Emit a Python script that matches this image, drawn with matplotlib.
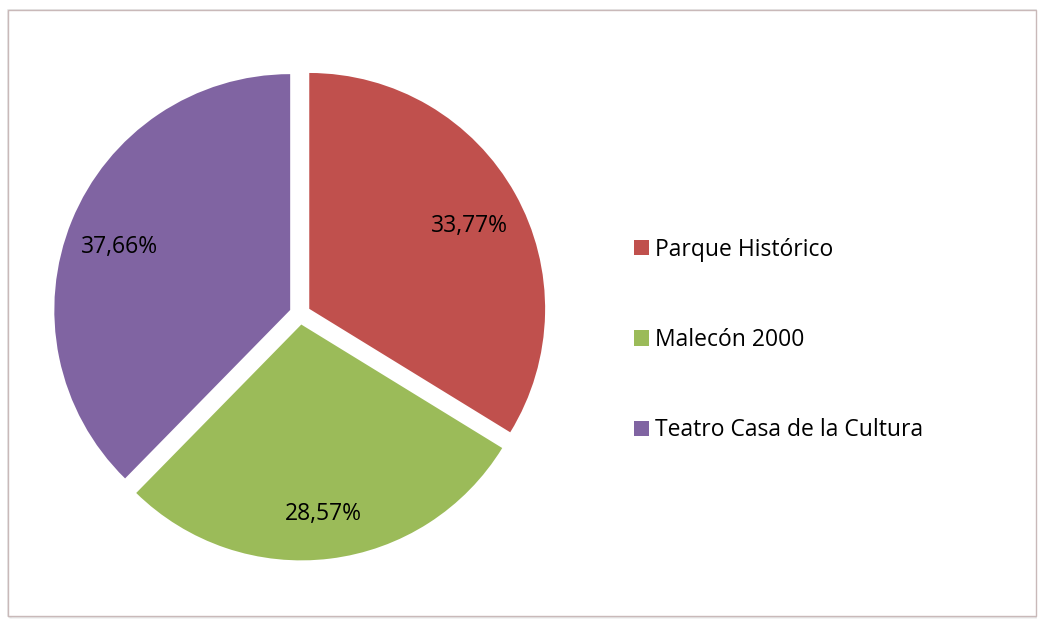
import matplotlib.pyplot as plt
import matplotlib.patches as mpatches
from matplotlib.transforms import offset_copy

plt.rcParams['font.family'] = ['Open Sans', 'DejaVu Sans']

LABELS = ['Parque Histórico', 'Malecón 2000', 'Teatro Casa de la Cultura']
VALUES = [33.77, 28.57, 37.66]
COLORS = ['#C0504D', '#9BBB59', '#8064A2']

W, H = 1038, 619
fig = plt.figure(figsize=(W / 100, H / 100), dpi=100)

# chart frame with a soft shadow on the left / bottom
for k, a in enumerate([0.10, 0.07, 0.04, 0.02]):
    fig.patches.append(mpatches.Rectangle(
        ((8 + k) / W, (3 - k) / H), (1028 - k) / W, 606 / H,
        transform=fig.transFigure, facecolor='none',
        edgecolor='black', alpha=a, lw=1.2, zorder=-3))
fig.patches.append(mpatches.Rectangle(
    (8 / W, 3 / H), 1028 / W, 606 / H, transform=fig.transFigure,
    facecolor='white', edgecolor='#c9b9b9', lw=1.0, zorder=-2))

ax = fig.add_axes([50 / W, (H - 564) / H, 500 / W, 500 / H])
wedges, _, autotexts = ax.pie(
    VALUES, colors=COLORS, startangle=90, counterclock=False,
    explode=[0.045] * 3, autopct=lambda p: f'{p:.2f}%'.replace('.', ','),
    pctdistance=0.78, textprops={'fontsize': 16.5, 'color': 'black'},
    wedgeprops={'linewidth': 0})
for t in autotexts:
    t.set_transform(offset_copy(ax.transData, fig=fig, y=-5, units='points'))
ax.set_xlim(-1.06, 1.06)
ax.set_ylim(-1.06, 1.06)
ax.set_aspect('equal')
ax.axis('off')

fig.legend(wedges, LABELS, loc='center left',
           bbox_to_anchor=(613 / W, (H - 340) / H), frameon=False,
           fontsize=16.5, labelspacing=2.9, handlelength=0.65,
           handleheight=0.65, handletextpad=0.3)

fig.savefig('out.png', dpi=100)
